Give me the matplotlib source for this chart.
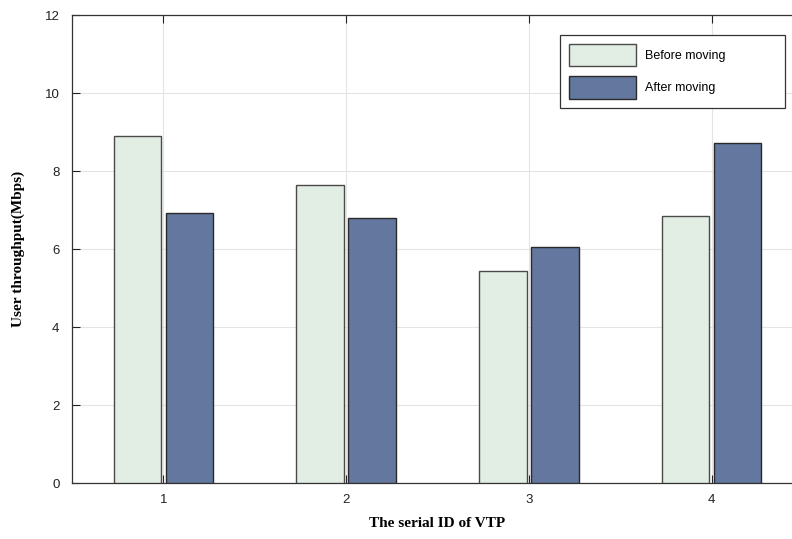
import numpy as np
import matplotlib.pyplot as plt

vtp_ids = [1, 2, 3, 4]
before_moving = [8.89, 7.65, 5.44, 6.84]
after_moving = [6.92, 6.80, 6.04, 8.72]

width = 0.26
offset = 0.142

fig = plt.figure(figsize=(7.92, 5.39), dpi=100)
# axes run past the right edge of the figure, as in the reference
ax = fig.add_axes([72/792, 1 - 483/539, (803 - 72)/792, (483 - 15)/539])

ind = np.array(vtp_ids)
ax.bar(ind - offset, before_moving, width, color='#E2EEE4',
       edgecolor='#4a4a4a', linewidth=1.0, label='Before moving', zorder=3)
ax.bar(ind + offset, after_moving, width, color='#64779F',
       edgecolor='#2a2a2a', linewidth=1.0, label='After moving', zorder=3)

ax.set_xlim(0.5, 4.5)
ax.set_ylim(0, 12)
ax.set_xticks(vtp_ids)
ax.set_yticks(np.arange(0, 13, 2))
ax.grid(True, color='#e4e4e4', linewidth=0.8, zorder=0)
ax.tick_params(direction='in', length=6, width=0.8, top=True,
               labelsize=9.5, colors='#222222', pad=9)
ax.tick_params(axis='x', pad=8)
for tl in ax.get_xticklabels() + ax.get_yticklabels():
    tl.set_family('Liberation Sans')

for s in ax.spines.values():
    s.set_color('#333333')
    s.set_linewidth(0.9)

ax.set_xlabel('The serial ID of VTP', family='Liberation Serif',
              fontweight='bold', fontsize=11, labelpad=8)
ax.set_ylabel('User throughput(Mbps)', family='Liberation Serif',
              fontweight='bold', fontsize=11, labelpad=14)

leg = ax.legend(loc='upper left',
                bbox_to_anchor=((560 - 72)/731, 0, (785 - 560)/731, 1 - 20/468),
                mode='expand',
                prop={'family': 'Liberation Sans', 'size': 9},
                fancybox=False, framealpha=1, edgecolor='#333333',
                handlelength=5.4, handleheight=2.4, borderpad=0.7,
                labelspacing=0.8, borderaxespad=0, handletextpad=0.7)
leg.get_frame().set_linewidth(0.9)

fig.savefig('out.png', dpi=100)
